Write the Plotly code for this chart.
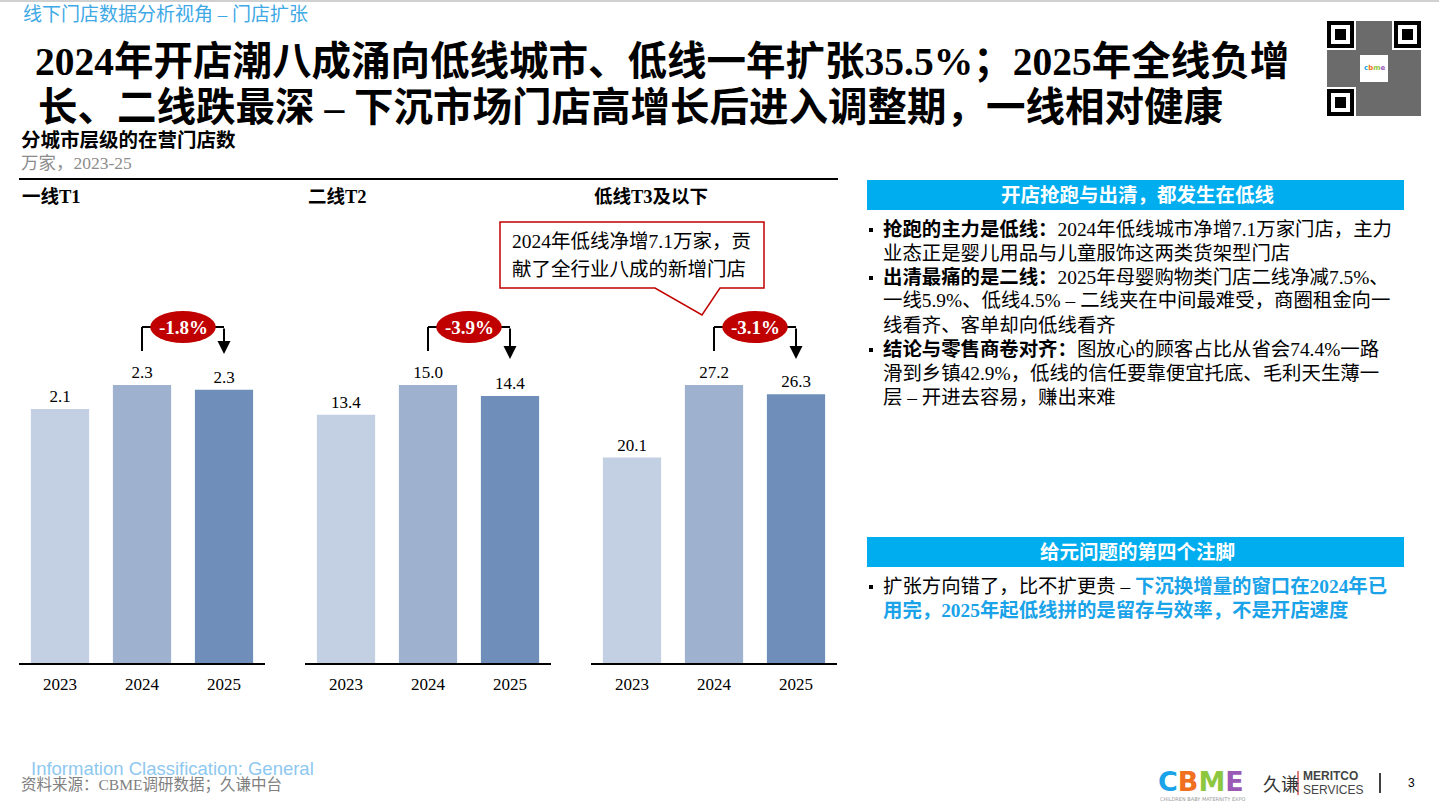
import plotly.graph_objects as go

# ---- data ----
years = ["2023", "2024", "2025"]
tiers = ["一线T1", "二线T2", "低线T3及以下"]
t1_stores = [2.12, 2.32, 2.28]
t2_stores = [13.4, 15.0, 14.4]
t3_stores = [20.1, 27.2, 26.3]
yoy_2025 = ["-1.8%", "-3.9%", "-3.1%"]
bar_colors = ["#c3cfe2", "#9eb1cf", "#6f8fba"]

W, H = 1439, 810
SERIF = "Liberation Serif, Noto Sans CJK SC"
CJK = "Noto Sans CJK SC"


def px(v):
    return v / W


def py(v):
    return 1 - v / H


fig = go.Figure()
series = [t1_stores, t2_stores, t3_stores]
domains = [(19, 265), (305, 551), (591, 837)]
shapes = []
annotations = []

for i, vals in enumerate(series):
    sfx = "" if i == 0 else str(i + 1)
    fig.add_trace(go.Bar(
        x=years, y=vals, xaxis="x" + sfx, yaxis="y" + sfx,
        marker=dict(color=bar_colors, line=dict(width=0)),
        text=[f"{v:.1f}" for v in vals], textposition="outside",
        textfont=dict(family=SERIF, size=17, color="black"),
        cliponaxis=False, showlegend=False, hoverinfo="skip", width=0.71,
    ))
    d0, d1 = domains[i]
    fig.layout["xaxis" + sfx] = dict(
        domain=[px(d0), px(d1)], anchor="y" + sfx, type="category",
        showline=True, linecolor="black", linewidth=2, ticks="",
        tickfont=dict(family=SERIF, size=17, color="black"),
        ticklabelstandoff=5, showgrid=False, zeroline=False, fixedrange=True,
    )
    fig.layout["yaxis" + sfx] = dict(
        domain=[py(663), py(385)], anchor="x" + sfx, range=[0, max(vals)],
        visible=False, showgrid=False, zeroline=False, fixedrange=True,
    )
    xr = "x" + sfx
    # panel header
    annotations.append(dict(
        x=px(d0 + 1), y=py(197), xref="paper", yref="paper", xanchor="left",
        yanchor="middle", showarrow=False, text="<b>" + tiers[i] + "</b>",
        font=dict(family=SERIF, size=18.5, color="black"),
    ))
    # bracket
    line = dict(color="black", width=2)
    shapes.append(dict(type="line", xref=xr, yref="paper", x0=1, x1=1,
                       y0=py(351), y1=py(327), line=line))
    shapes.append(dict(type="line", xref=xr, yref="paper", x0=1, x1=2,
                       y0=py(327), y1=py(327), line=line))
    shapes.append(dict(type="circle", xref=xr, yref="paper", x0=1.1, x1=1.9,
                       y0=py(343), y1=py(311), fillcolor="#c00000",
                       line=dict(width=0)))
    annotations.append(dict(
        x=2, y=py(359 if i else 354), xref=xr, yref="paper", text="",
        showarrow=True, ax=0, ay=-(359 if i else 354) + 327, arrowhead=2,
        arrowsize=1.3, arrowwidth=2, arrowcolor="black",
    ))
    annotations.append(dict(
        x=1.5, y=py(327), xref=xr, yref="paper", showarrow=False,
        text="<b>" + yoy_2025[i] + "</b>",
        font=dict(family=SERIF, size=19, color="white"),
    ))

# top thin rule, chart rule
shapes.append(dict(type="line", xref="paper", yref="paper", x0=0, x1=1,
                   y0=py(1), y1=py(1), line=dict(color="#d0d0d0", width=2)))
shapes.append(dict(type="line", xref="paper", yref="paper", x0=px(19),
                   x1=px(838), y0=py(179), y1=py(179),
                   line=dict(color="black", width=2)))

# callout box
pts = [(500, 222), (764, 222), (764, 288), (720, 288), (702, 315),
       (655, 288), (500, 288)]
path = "M " + " L ".join(f"{px(a)},{py(b)}" for a, b in pts) + " Z"
shapes.append(dict(type="path", xref="paper", yref="paper", path=path,
                   fillcolor="white", line=dict(color="#c00000", width=1.5)))


def txt(x, y, s, size=16, color="black", family=SERIF, anchor="left"):
    annotations.append(dict(
        x=px(x), y=py(y), xref="paper", yref="paper", xanchor=anchor,
        yanchor="middle", showarrow=False, text=s,
        font=dict(family=family, size=size, color=color),
    ))


txt(510, 242, "2024年低线净增7.1万家，贡", 19.5)
txt(510, 269, "献了全行业八成的新增门店", 19.5)

# header texts
txt(21, 15, "线下门店数据分析视角 – 门店扩张", 19, "#3fa9e6")
txt(33, 62, "<b>2024年开店潮八成涌向低线城市、低线一年扩张35.5%；2025年全线负增</b>", 39.5)
txt(36, 108, "<b>长、二线跌最深 – 下沉市场门店高增长后进入调整期，一线相对健康</b>", 39.5)
txt(19, 140, "<b>分城市层级的在营门店数</b>", 19.5)
txt(19, 163, "万家，2023-25", 17.5, "#8c8c8c")

# right panels
BLUE = "#00aeef"
shapes.append(dict(type="rect", xref="paper", yref="paper", x0=px(867),
                   x1=px(1404), y0=py(210), y1=py(180), fillcolor=BLUE,
                   line=dict(width=0)))
txt(1137, 195, "<b>开店抢跑与出清，都发生在低线</b>", 19.5, "white", anchor="center")
panel1 = [
    ("<b>抢跑的主力是低线：</b>2024年低线城市净增7.1万家门店，主力", True),
    ("业态正是婴儿用品与儿童服饰这两类货架型门店", False),
    ("<b>出清最痛的是二线：</b>2025年母婴购物类门店二线净减7.5%、", True),
    ("一线5.9%、低线4.5% – 二线夹在中间最难受，商圈租金向一", False),
    ("线看齐、客单却向低线看齐", False),
    ("<b>结论与零售商卷对齐：</b>图放心的顾客占比从省会74.4%一路", True),
    ("滑到乡镇42.9%，低线的信任要靠便宜托底、毛利天生薄一", False),
    ("层 – 开进去容易，赚出来难", False),
]
for k, (s, bullet) in enumerate(panel1):
    yy = 229 + k * 24
    txt(881, yy, s, 19.4)
    if bullet:
        shapes.append(dict(type="rect", xref="paper", yref="paper",
                           x0=px(869), x1=px(873), y0=py(yy + 3), y1=py(yy - 1),
                           fillcolor="black", line=dict(width=0)))

shapes.append(dict(type="rect", xref="paper", yref="paper", x0=px(867),
                   x1=px(1404), y0=py(567), y1=py(537), fillcolor=BLUE,
                   line=dict(width=0)))
txt(1137, 552, "<b>给元问题的第四个注脚</b>", 19.5, "white", anchor="center")
HB = "#1aa3e8"
txt(881, 586, f"扩张方向错了，比不扩更贵 – <b><span style='color:{HB}'>下沉换增量的窗口在2024年已</span></b>", 19.4)
txt(881, 610, f"<b><span style='color:{HB}'>用完，2025年起低线拼的是留存与效率，不是开店速度</span></b>", 19.4)
shapes.append(dict(type="rect", xref="paper", yref="paper", x0=px(869),
                   x1=px(873), y0=py(589), y1=py(585), fillcolor="black",
                   line=dict(width=0)))

# footer
txt(29, 768, "Information Classification: General", 18.5, "#8ec8f0",
    family="Liberation Sans, Arial")
txt(19, 785, "资料来源：CBME调研数据；久谦中台", 15.5, "#808080")
txt(1156, 781, "<b><span style='color:#1aa3e8'>C</span><span style='color:#f07020'>B</span>"
    "<span style='color:#8dc63f'>M</span><span style='color:#9b59b6'>E</span></b>",
    27, family="DejaVu Sans")
txt(1158, 799, "CHILDREN BABY MATERNITY EXPO", 5, "#999999", family="DejaVu Sans")
txt(1261, 783, "久谦", 18, "#333333", family=CJK)
shapes.append(dict(type="line", xref="paper", yref="paper", x0=px(1298),
                   x1=px(1298), y0=py(795), y1=py(771),
                   line=dict(color="#c00000", width=1)))
txt(1301, 776, "<b>MERITCO</b>", 12, "#444444", family="Liberation Sans Narrow, Liberation Sans")
txt(1301, 790, "SERVICES", 12, "#444444", family="Liberation Sans Narrow, Liberation Sans")
shapes.append(dict(type="line", xref="paper", yref="paper", x0=px(1380),
                   x1=px(1380), y0=py(793), y1=py(773),
                   line=dict(color="black", width=1.5)))
txt(1406, 783, "3", 12, family="Liberation Sans")


# qr code placeholder
def rect(x0, y0, x1, y1, c):
    shapes.append(dict(type="rect", xref="paper", yref="paper", x0=px(x0),
                       x1=px(x1), y0=py(y1), y1=py(y0), fillcolor=c,
                       line=dict(width=0)))


rect(1327, 21, 1421, 116, "#6b6b6b")
for fx, fy in [(1327, 21), (1394, 21), (1327, 89)]:
    rect(fx - 2, fy - 2, fx + 29, fy + 29, "white")
    rect(fx, fy, fx + 27, fy + 27, "black")
    rect(fx + 4, fy + 4, fx + 23, fy + 23, "white")
    rect(fx + 8, fy + 8, fx + 19, fy + 19, "black")
rect(1360, 55, 1388, 82, "white")
txt(1374, 68, "<b><span style='color:#1aa3e8'>c</span><span style='color:#f07020'>b</span>"
    "<span style='color:#8dc63f'>m</span><span style='color:#9b59b6'>e</span></b>",
    7, family="DejaVu Sans", anchor="center")

fig.update_layout(
    width=W, height=H, margin=dict(l=0, r=0, t=0, b=0),
    paper_bgcolor="white", plot_bgcolor="white", bargap=0.29,
    shapes=shapes, annotations=annotations,
)

# drop the default 8px page margin so the figure sits at the window corner
fig.write_html("out.html", config={"displayModeBar": False},
               post_script="document.body.style.margin='0';")
